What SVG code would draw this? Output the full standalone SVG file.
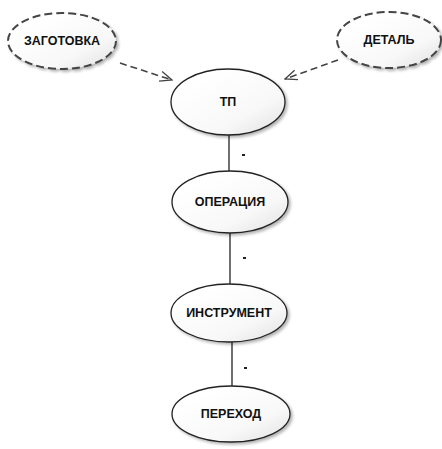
<svg xmlns="http://www.w3.org/2000/svg" width="442" height="449" viewBox="0 0 442 449">
<defs>
<linearGradient id="g" x1="0.2" y1="0.2" x2="1" y2="1">
<stop offset="0" stop-color="#ffffff"/>
<stop offset="0.6" stop-color="#f8f8f8"/>
<stop offset="1" stop-color="#e0e0e0"/>
</linearGradient>
<filter id="sh" x="-20%" y="-20%" width="150%" height="150%">
<feGaussianBlur in="SourceAlpha" stdDeviation="1.5"/>
<feOffset dx="2" dy="2" result="b"/>
<feComponentTransfer><feFuncA type="linear" slope="0.3"/></feComponentTransfer>
<feMerge><feMergeNode/><feMergeNode in="SourceGraphic"/></feMerge>
</filter>
<marker id="open" markerWidth="14" markerHeight="12" refX="13" refY="6" orient="auto" markerUnits="userSpaceOnUse">
<path d="M1,1 L13,6 L1,11" fill="none" stroke="#444" stroke-width="1.3"/>
</marker>
</defs>
<style>
.n{fill:url(#g);stroke:#222;stroke-width:1.3;filter:url(#sh)}
.d{stroke-dasharray:8 4;stroke:#444;stroke-width:2}
.t{font-family:"Liberation Sans",Arial,sans-serif;font-weight:bold;font-size:12.5px;fill:#111;text-anchor:middle}
.c{stroke:#222;stroke-width:1.3;fill:none}
.cd{stroke:#444;stroke-width:1.6;stroke-dasharray:7 4;fill:none}
.dot{fill:#222}
</style>
<rect width="442" height="449" fill="#fff"/>
<g id="connectors">
<line class="cd" x1="120" y1="63" x2="172" y2="80" marker-end="url(#open)"/>
<line class="cd" x1="338" y1="60" x2="285" y2="79" marker-end="url(#open)"/>
<line class="c" x1="229" y1="135" x2="229" y2="171"/>
<line class="c" x1="230" y1="233" x2="230" y2="284"/>
<line class="c" x1="232" y1="342" x2="232" y2="392"/>
<rect class="dot" x="242" y="154" width="3" height="2"/>
<rect class="dot" x="243" y="257" width="3" height="2"/>
<rect class="dot" x="244" y="367" width="3" height="2"/>
</g>
<g id="zagotovka">
<ellipse class="n d" cx="62" cy="41" rx="54" ry="28"/>
<text class="t" x="62" y="45">ЗАГОТОВКА</text>
</g>
<g id="detal">
<ellipse class="n d" cx="389" cy="40" rx="52" ry="28"/>
<text class="t" x="389" y="44">ДЕТАЛЬ</text>
</g>
<g id="tp">
<ellipse class="n" cx="228" cy="102" rx="57" ry="33"/>
<text class="t" x="228" y="106">ТП</text>
</g>
<g id="operaciya">
<ellipse class="n" cx="230" cy="202" rx="58" ry="31"/>
<text class="t" x="230" y="206">ОПЕРАЦИЯ</text>
</g>
<g id="instrument">
<ellipse class="n" cx="229" cy="313" rx="58" ry="29"/>
<text class="t" x="229" y="317">ИНСТРУМЕНТ</text>
</g>
<g id="perehod">
<ellipse class="n" cx="231" cy="414" rx="59" ry="28"/>
<text class="t" x="231" y="418">ПЕРЕХОД</text>
</g>
</svg>
